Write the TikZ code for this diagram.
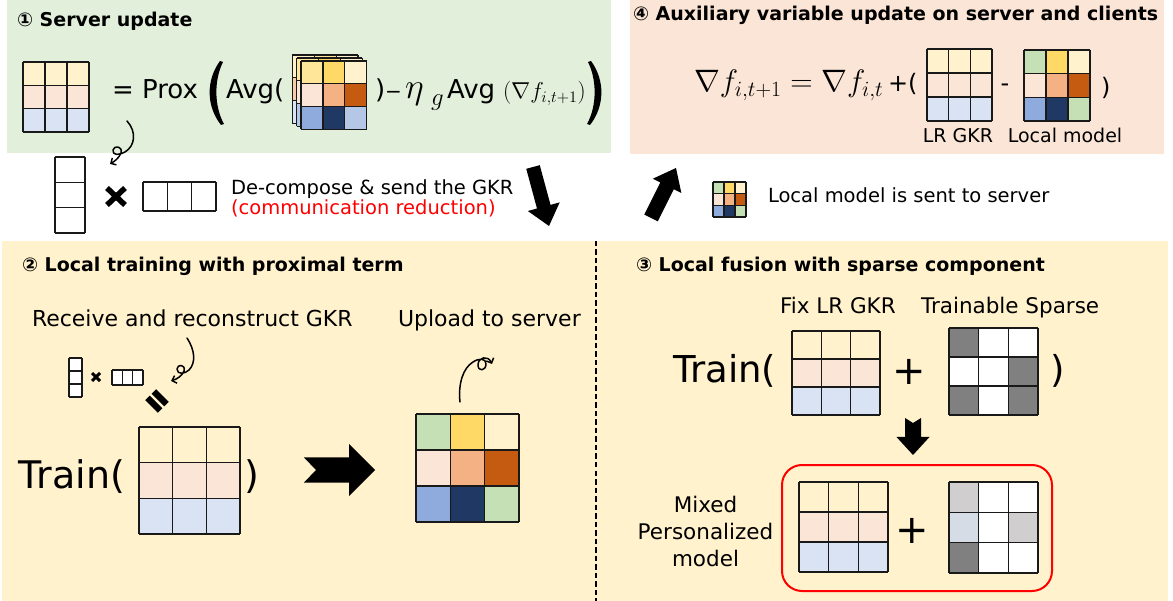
\RequirePackage{fix-cm}
\documentclass[tikz,border=0pt]{standalone}
\usepackage{fontspec}
\setmainfont{DejaVu Sans}
\newfontfamily\circfont{DejaVu Sans}
\usetikzlibrary{arrows.meta}

% panel backgrounds
\definecolor{panelgreen}{HTML}{E2EFDA}
\definecolor{panelpeach}{HTML}{FBE5D6}
\definecolor{panelcream}{HTML}{FFF2CC}
% cell colours
\definecolor{cyellow}{HTML}{FFF2CC}
\definecolor{cpeach}{HTML}{FBE5D6}
\definecolor{cpeachdk}{HTML}{F8CBAD}
\definecolor{cblue}{HTML}{DAE3F3}
\definecolor{cgreen}{HTML}{C5E0B4}
\definecolor{cgold}{HTML}{FFD966}
\definecolor{cgoldlt}{HTML}{FFE699}
\definecolor{csalmon}{HTML}{F4B183}
\definecolor{crust}{HTML}{C55A11}
\definecolor{csky}{HTML}{8FAADC}
\definecolor{cnavy}{HTML}{1F3864}
\definecolor{cpale}{HTML}{B4C7E7}
\definecolor{cgrey}{HTML}{808080}
\definecolor{clgrey}{HTML}{D0CECE}
\definecolor{cslate}{HTML}{D6DCE5}
\definecolor{boxred}{HTML}{FF0000}

\newcommand{\fsz}[1]{\fontsize{#1}{#1}\selectfont}

\tikzset{
  every node/.style={inner sep=0pt, outer sep=0pt},
  txt/.style={anchor=base west},
  title/.style={anchor=base west, font=\fsz{19}\bfseries},
  gridbox/.style={rectangle, draw=none},
  gridline/.style={line width=1.2pt, draw=black!90, line cap=square},
  curl/.style={line width=1.5pt, -{Straight Barb[length=4pt,width=8pt]}, line cap=round, line join=round},
}

% a grid of coloured cells: name, columns, rows, x0, y0, x1, y1, colours row by row
\newcommand{\cellgrid}[8]{%
  \node[gridbox, minimum width={(#6-#4)*1pt}, minimum height={(#7-#5)*1pt}] (#1) at ({(#4+#6)/2},{(#5+#7)/2}) {};
  \foreach \cellcol [count=\cellidx from 0] in {#8} {
    \pgfmathsetmacro{\gridr}{floor(\cellidx/#2)}
    \pgfmathsetmacro{\gridq}{mod(\cellidx,#2)}
    \fill[\cellcol] ({#4+\gridq*(#6-#4)/#2},{#5+\gridr*(#7-#5)/#3}) rectangle ++({(#6-#4)/#2},{(#7-#5)/#3});
  }
  \foreach \gi in {0,...,#2} \draw[gridline] ({#4+\gi*(#6-#4)/#2},#5) -- ({#4+\gi*(#6-#4)/#2},#7);
  \foreach \gj in {0,...,#3} \draw[gridline] (#4,{#5+\gj*(#7-#5)/#3}) -- (#6,{#5+\gj*(#7-#5)/#3});
}

% a filled block arrow: x1, y1, x2, y2, shaft width, head width, head length, tail notch
\newcommand{\blockarrow}[8]{%
  \pgfmathsetmacro{\arlen}{veclen(#3-#1,#4-#2)}
  \pgfmathsetmacro{\arang}{atan2(#2-#4,#3-#1)}
  \fill[black, shift={(#1,#2)}, rotate=\arang]
    (0,{-#5/2}) -- ({\arlen-#7},{-#5/2}) -- ({\arlen-#7},{-#6/2}) -- (\arlen,0)
    -- ({\arlen-#7},{#6/2}) -- ({\arlen-#7},{#5/2}) -- (0,{#5/2}) -- (#8,0) -- cycle;
}

\begin{document}
\begin{tikzpicture}[x=1pt, y=-1pt]
\useasboundingbox (0,0) rectangle (1173,601);
\fill[white] (0,0) rectangle (1173,601);

% ---------- panels ----------
\fill[panelgreen] (7,0) rectangle (611,153);
\fill[panelpeach] (630,0) rectangle (1164,154);
\fill[panelcream] (2,241) rectangle (1168,601);
\draw[line width=2.8pt, dash pattern=on 5.5pt off 3pt] (596,241) -- (596,601);

% ---------- 1: server update ----------
\node[title] (t1) at (17,26.5) {{\circfont ①} Server update};
\cellgrid{gkr}{3}{3}{23}{62}{89}{132}{cyellow,cyellow,cyellow,cpeach,cpeach,cpeach,cblue,cblue,cblue}
\node[txt, font=\fsz{26}] (prox) at (112,99) {= Prox};
\fill (220,61) .. controls (206,80) and (206,106) .. (221,125) -- (224,124) .. controls (214,106) and (214,80) .. (223,62) -- cycle;
\node[txt, font=\fsz{26}] (avg1) at (226,99) {Avg(};
\cellgrid{layerc}{3}{3}{292.3}{55}{358}{123.3}{cyellow,cgoldlt,cyellow,cpeachdk,cpeachdk,crust,cblue,cpale,cpale}
\cellgrid{layerb}{3}{3}{296.7}{58}{362.4}{126.3}{cgoldlt,cgold,cyellow,cpeach,csalmon,crust,cpale,cnavy,cpale}
\cellgrid{layera}{3}{3}{301}{61}{366.7}{129.3}{cgoldlt,cgold,cyellow,cpeach,csalmon,crust,csky,cnavy,cpale}
\node[txt, font=\fsz{26}] (cl1) at (375,99) {)};
\node[txt, font=\fsz{20}] (minus) at (385,99) {−};
\node[txt, font=\fsz{36}] (eta) at (405,99) {$\eta$};
\node[txt, font=\fsz{25}] (etasub) at (431,106) {$g$};
\node[txt, font=\fsz{26}] (avg2) at (447,99) {Avg};
\node[txt, font=\fsz{23}] (grad) at (503,99) {$(\nabla f_{i,t+1})$};
\fill (591,61) .. controls (605,80) and (605,106) .. (590,125) -- (587,124) .. controls (597,106) and (597,80) .. (588,62) -- cycle;
\draw[curl] (127,121) .. controls (137,132) and (135,146) .. (125,152)
  .. controls (120,155) and (112,156) .. (113,150)
  .. controls (114,145) and (123,146) .. (121,153)
  .. controls (119,158) and (115,161) .. (110,164);

% ---------- strip between the panels ----------
\cellgrid{ucol}{1}{3}{55}{157}{85}{233}{white,white,white}
\draw[line width=5.5pt] (107,188) -- (125,205) (125,188) -- (107,205);
\cellgrid{vrow}{3}{1}{143}{182}{216}{211}{white,white,white}
\node[txt, font=\fsz{19.5}] (dec) at (231,195) {De-compose \& send the GKR};
\node[txt, font=\fsz{19.5}, text=boxred] (comm) at (231,215) {(communication reduction)};
\blockarrow{533}{167}{549}{226}{14}{33}{20}{0}
\blockarrow{651}{218}{676}{168}{15}{32}{20}{0}
\cellgrid{sent}{3}{3}{713}{182}{746}{217}{cgreen,cgold,cyellow,cpeach,csalmon,crust,csky,cnavy,cgreen}
\node[txt, font=\fsz{19.5}] (sentlbl) at (768,203) {Local model is sent to server};

% ---------- 4: auxiliary variable ----------
\node[title] (t4) at (633,21) {{\circfont ④} Auxiliary variable update on server and clients};
\node[txt, font=\fsz{31}] (aux) at (694,92) {$\nabla f_{i,t+1} = \nabla f_{i,t}$};
\node[txt, font=\fsz{24}] (plus4) at (888,92) {+(};
\cellgrid{lrgkr}{3}{3}{927}{49}{992}{121}{cyellow,cyellow,cyellow,cpeach,cpeach,cpeach,cblue,cblue,cblue}
\node[anchor=base, font=\fsz{24}] (dash4) at (1005,92) {-};
\cellgrid{local4}{3}{3}{1024}{50}{1090}{121}{cgreen,cgold,cyellow,cpeach,csalmon,crust,csky,cnavy,cgreen}
\node[txt, font=\fsz{24}] (close4) at (1101,96) {)};
\node[anchor=base, font=\fsz{19}] (lbl4a) at (958,143) {LR GKR};
\node[anchor=base, font=\fsz{19}] (lbl4b) at (1065,143) {Local model};

% ---------- 2: local training ----------
\node[title] (t2) at (22,272) {{\circfont ②} Local training with proximal term};
\node[txt, font=\fsz{22}] (recv) at (32,327) {Receive and reconstruct GKR};
\node[txt, font=\fsz{22}] (upl) at (398,327) {Upload to server};
\cellgrid{scol}{1}{3}{69}{358}{82}{397}{white,white,white}
\draw[line width=3pt] (92,373) -- (100,381) (100,373) -- (92,381);
\cellgrid{srow}{3}{1}{112}{370}{143}{385}{white,white,white}
\begin{scope}[shift={(157,401)}, rotate=-45]
  \fill (-9,-7.75) rectangle (9,-1.25);
  \fill (-9,1.25) rectangle (9,7.75);
\end{scope}
\draw[curl] (187,338) .. controls (195,350) and (196,363) .. (189,370)
  .. controls (185,374) and (177,375) .. (177,369)
  .. controls (177,364) and (186,364) .. (184,371)
  .. controls (182,376) and (177,379) .. (171,381);
\node[txt, font=\fsz{38}] (train2) at (19,489) {Train(};
\cellgrid{gkr2}{3}{3}{139}{427}{240}{534}{cyellow,cyellow,cyellow,cpeach,cpeach,cpeach,cblue,cblue,cblue}
\node[txt, font=\fsz{38}] (close2) at (244,489) {)};
\blockarrow{304}{470}{375}{470}{25}{52}{26}{12}
\cellgrid{local2}{3}{3}{416}{414}{519}{522}{cgreen,cgold,cyellow,cpeach,csalmon,crust,csky,cnavy,cgreen}
\draw[curl] (460,402) .. controls (458,384) and (463,368) .. (473,362)
  .. controls (479,358) and (486,358) .. (486,364)
  .. controls (486,371) and (478,372) .. (478,365)
  .. controls (478,357) and (488,355) .. (492,364);

% ---------- 3: local fusion ----------
\node[title] (t3) at (636,272) {{\circfont ③} Local fusion with sparse component};
\node[txt, font=\fsz{21.5}] (fix) at (780,314) {Fix LR GKR};
\node[txt, font=\fsz{21.5}] (trs) at (921,314) {Trainable Sparse};
\node[txt, font=\fsz{37}] (train3) at (673,383) {Train(};
\cellgrid{gkr3}{3}{3}{792}{331}{880}{415}{cyellow,cyellow,cyellow,cpeach,cpeach,cpeach,cblue,cblue,cblue}
\node[font=\fsz{40}] (plus3) at (909,372) {+};
\cellgrid{sparse3}{3}{3}{949}{328}{1038}{415}{cgrey,white,white,white,white,cgrey,cgrey,white,cgrey}
\node[txt, font=\fsz{37}] (close3) at (1050,383) {)};
\blockarrow{913}{418}{913}{455}{16}{33}{18}{5}
\node[draw=boxred, line width=2pt, rounded corners=20pt, minimum width=270pt, minimum height=126pt] (mixbox) at (917,528) {};
\node[anchor=base, font=\fsz{21.5}] (mx1) at (705.5,512) {Mixed};
\node[anchor=base, font=\fsz{21.5}] (mx2) at (705.5,539) {Personalized};
\node[anchor=base, font=\fsz{21.5}] (mx3) at (705.5,566) {model};
\cellgrid{gkr3b}{3}{3}{799}{482}{888}{572}{cyellow,cyellow,cyellow,cpeach,cpeach,cpeach,cblue,cblue,cblue}
\node[font=\fsz{40}] (plus3b) at (912,531) {+};
\cellgrid{sparse3b}{3}{3}{949}{482}{1038}{573}{clgrey,white,white,cslate,white,clgrey,cgrey,white,white}
\end{tikzpicture}
\end{document}
